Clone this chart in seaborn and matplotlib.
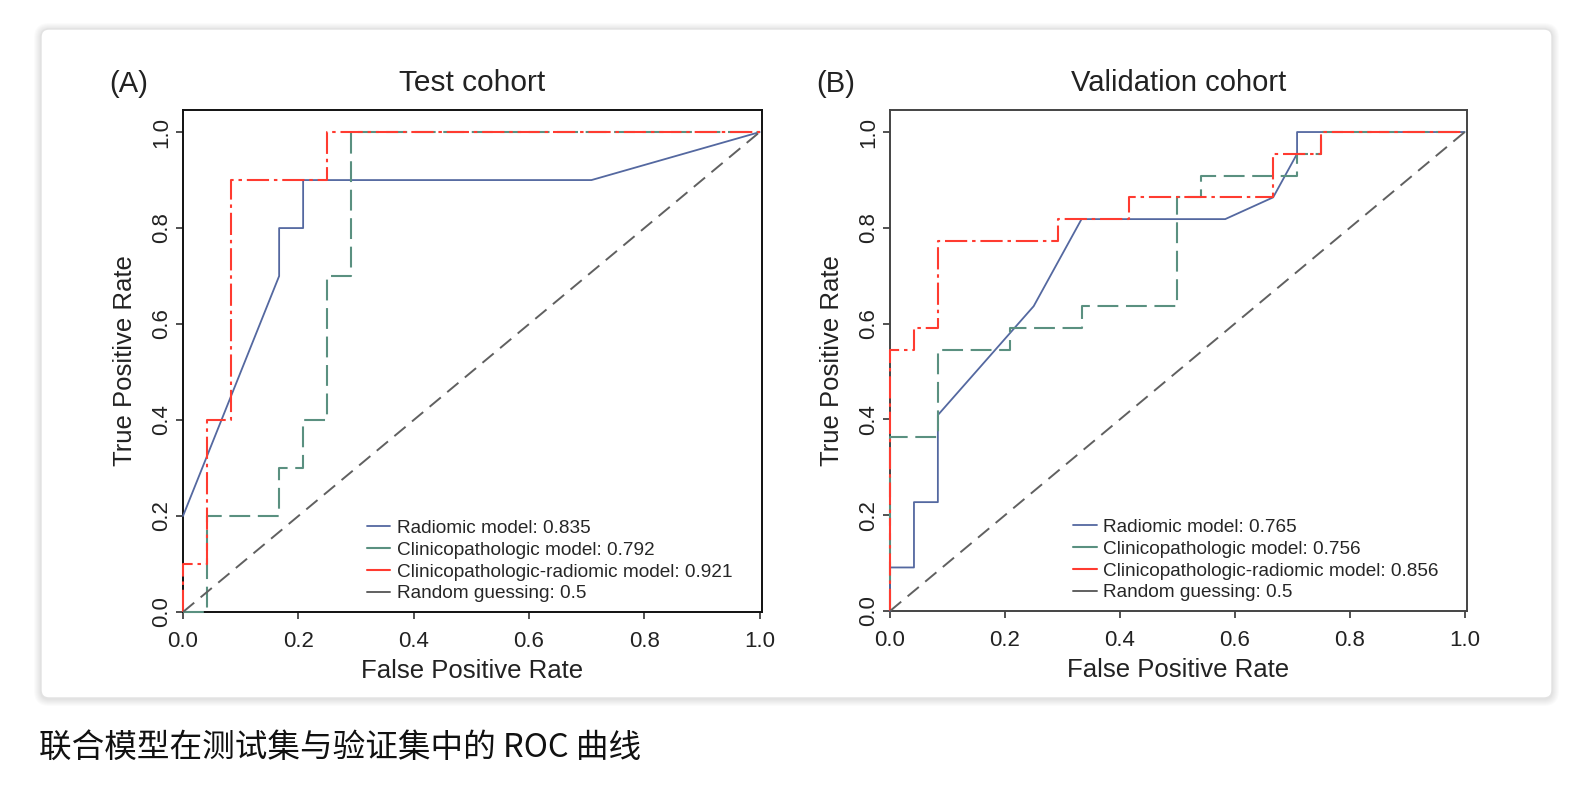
import seaborn as sns
import matplotlib.pyplot as plt
from matplotlib.lines import Line2D
from matplotlib.patches import FancyBboxPatch
from matplotlib.transforms import IdentityTransform

# ---------------------------------------------
# ROC points
# ---------------------------------------------
# (A) Test cohort
test_rad_fpr = [0.0, 0.1667, 0.1667, 0.2083, 0.2083, 0.7083, 1.0]
test_rad_tpr = [0.2, 0.7, 0.8, 0.8, 0.9, 0.9, 1.0]

test_clin_fpr = [0.0, 0.0417, 0.0417, 0.1667, 0.1667, 0.2083, 0.2083, 0.25, 0.25, 0.2917, 0.2917, 1.0]
test_clin_tpr = [0.0, 0.0, 0.2, 0.2, 0.3, 0.3, 0.4, 0.4, 0.7, 0.7, 1.0, 1.0]

test_comb_fpr = [0.0, 0.0, 0.0417, 0.0417, 0.0833, 0.0833, 0.25, 0.25, 1.0]
test_comb_tpr = [0.0, 0.1, 0.1, 0.4, 0.4, 0.9, 0.9, 1.0, 1.0]

# (B) Validation cohort
val_rad_fpr = [0.0, 0.0, 0.0417, 0.0417, 0.0833, 0.0833, 0.25, 0.3333, 0.5833, 0.6667, 0.7083, 0.7083, 1.0]
val_rad_tpr = [0.0, 0.0909, 0.0909, 0.2273, 0.2273, 0.4091, 0.6364, 0.8182, 0.8182, 0.8636, 0.9545, 1.0, 1.0]

val_clin_fpr = [0.0, 0.0, 0.0833, 0.0833, 0.2083, 0.2083, 0.3333, 0.3333, 0.5, 0.5,
                0.5417, 0.5417, 0.7083, 0.7083, 0.75, 0.75, 1.0]
val_clin_tpr = [0.0, 0.3636, 0.3636, 0.5455, 0.5455, 0.5909, 0.5909, 0.6364, 0.6364, 0.8636,
                0.8636, 0.9091, 0.9091, 0.9545, 0.9545, 1.0, 1.0]

val_comb_fpr = [0.0, 0.0, 0.0417, 0.0417, 0.0833, 0.0833, 0.2917, 0.2917, 0.4167, 0.4167,
                0.6667, 0.6667, 0.75, 0.75, 1.0]
val_comb_tpr = [0.0, 0.5455, 0.5455, 0.5909, 0.5909, 0.7727, 0.7727, 0.8182, 0.8182, 0.8636,
                0.8636, 0.9545, 0.9545, 1.0, 1.0]

diag_x = [0.0, 1.0]
diag_y = [0.0, 1.0]

test_auc = ["0.835", "0.792", "0.921", "0.5"]
val_auc = ["0.765", "0.756", "0.856", "0.5"]
model_names = ["Radiomic model", "Clinicopathologic model",
               "Clinicopathologic-radiomic model", "Random guessing"]
tick_values = [0.0, 0.2, 0.4, 0.6, 0.8, 1.0]
tick_labels = ["0.0", "0.2", "0.4", "0.6", "0.8", "1.0"]

# ---------------------------------------------
# Styling
# ---------------------------------------------
sns.set_theme(style="white")
plt.rcParams['font.family'] = ['Liberation Sans', 'DejaVu Sans']
plt.rcParams['lines.scale_dashes'] = False

c_rad = '#5468a0'
c_clin = '#5a9080'
c_comb = '#ff3b30'
c_diag = '#606060'

ls_rad = '-'
ls_clin = (0, (15, 5.5))
ls_comb = (0, (16, 3.5, 2.5, 3.5))
ls_diag = (0, (10.5, 6))

W, H = 1595, 798
fig = plt.figure(figsize=(W / 100, H / 100), dpi=100)
fig.patch.set_facecolor('white')

# card with a soft shadow (pixel coordinates)
cx0, cy0, cw, ch = 41, H - 698, 1511, 669
for k in range(7, 0, -1):
    sh = FancyBboxPatch((cx0 - k, cy0 - k - 1), cw + 2 * k, ch + 2 * k,
                        boxstyle="round,pad=0,rounding_size=%d" % (8 + k),
                        transform=IdentityTransform(), facecolor='#000000',
                        edgecolor='none', alpha=0.014, zorder=-5)
    fig.add_artist(sh)
card = FancyBboxPatch((cx0, cy0), cw, ch, boxstyle="round,pad=0,rounding_size=8",
                      transform=IdentityTransform(), facecolor='white',
                      edgecolor='#e2e2e2', linewidth=1, zorder=-4)
fig.add_artist(card)


def draw_panel(rect, curves, aucs, title, title_size, letter, letter_x, spine_color, legend_x):
    ax = fig.add_axes(rect)
    ax.set_facecolor('none')
    handles = []
    for (fx, ty), col, ls, lw in curves:
        sns.lineplot(x=fx, y=ty, sort=False, estimator=None, ax=ax, color=col,
                     linestyle=ls, linewidth=lw)
        line = ax.lines[-1]
        line.set_clip_on(False)
        line.set_zorder(3)
        # legend keys in the reference are short solid strokes
        handles.append(Line2D([], [], color=col, linewidth=lw))
    ax.set_xlim(0, 1.004)
    ax.set_ylim(0, 1.046)
    ax.set_xticks(tick_values)
    ax.set_xticklabels(tick_labels)
    ax.set_yticks(tick_values)
    ax.set_yticklabels(tick_labels, rotation=90, va='center')
    ax.tick_params(axis='both', direction='out', length=5, width=1.1, colors='#222222',
                   labelsize=16, bottom=True, left=True)
    ax.tick_params(axis='x', pad=8.5)
    ax.tick_params(axis='y', pad=3)
    for s in ax.spines.values():
        s.set_visible(True)
        s.set_color(spine_color)
        s.set_linewidth(1.4)
    ax.set_xlabel("False Positive Rate", fontsize=18.5, color='#222222', labelpad=5)
    ax.set_ylabel("True Positive Rate", fontsize=18.5, color='#222222', labelpad=10)
    ax.set_title(title, fontsize=title_size, color='#222222', pad=14)
    labels = [f"{n}: {a}" for n, a in zip(model_names, aucs)]
    ax.legend(handles, labels, loc='lower left', bbox_to_anchor=(legend_x, 0.019),
              frameon=False, fontsize=13.7, handlelength=1.25, handletextpad=0.35,
              labelspacing=0.24, borderaxespad=0, borderpad=0)
    fig.text(letter_x / W, 1 - 84 / H, letter, ha='center', va='center',
             fontsize=21, color='#222222')
    return ax


curves_a = [((test_rad_fpr, test_rad_tpr), c_rad, ls_rad, 1.3),
            ((test_clin_fpr, test_clin_tpr), c_clin, ls_clin, 1.5),
            ((test_comb_fpr, test_comb_tpr), c_comb, ls_comb, 1.5),
            ((diag_x, diag_y), c_diag, ls_diag, 1.4)]
curves_b = [((val_rad_fpr, val_rad_tpr), c_rad, ls_rad, 1.3),
            ((val_clin_fpr, val_clin_tpr), c_clin, ls_clin, 1.5),
            ((val_comb_fpr, val_comb_tpr), c_comb, ls_comb, 1.5),
            ((diag_x, diag_y), c_diag, ls_diag, 1.4)]

draw_panel([183 / W, (H - 612) / H, 579 / W, 502 / H], curves_a, test_auc,
           "Test cohort", 21.5, "(A)", 129, '#111111', 0.317)
draw_panel([890 / W, (H - 611) / H, 577 / W, 501 / H], curves_b, val_auc,
           "Validation cohort", 21, "(B)", 836, '#444444', 0.317)

fig.text(39 / W, 1 - 749 / H, "联合模型在测试集与验证集中的 ROC 曲线", ha='left', va='center',
         fontsize=23.5, color='#111111', family=['Noto Sans CJK SC', 'DejaVu Sans'])

fig.savefig("out.png", dpi=100)
